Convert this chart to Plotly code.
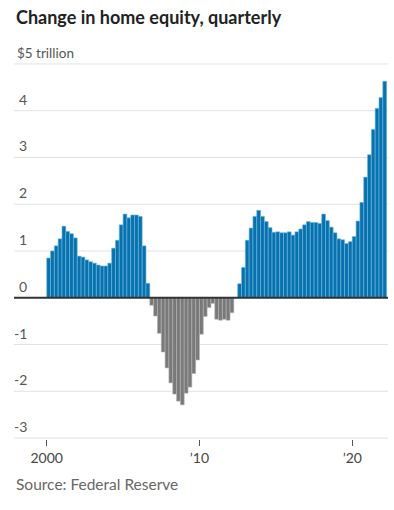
import plotly.graph_objects as go

# ---- data (trillions of dollars, quarterly change in home equity), 2000Q1 .. 2022Q1
start_year = 2000
boom_values = [0.85, 1.00, 1.11, 1.26, 1.53, 1.42, 1.37, 1.28, 0.89, 0.87, 0.81, 0.77, 0.74,
               0.70, 0.68, 0.68, 0.74, 1.06, 1.23, 1.56, 1.79, 1.71, 1.77, 1.77, 1.74, 1.11, 0.31]
bust_values = [-0.16, -0.39, -0.76, -1.16, -1.50, -1.82, -2.06, -2.21, -2.29, -2.04, -1.91,
               -1.62, -1.33, -0.78, -0.40, -0.21, -0.12, -0.46, -0.48, -0.46, -0.48, -0.32, 0.0]
recovery_values = [0.30, 0.65, 1.23, 1.49, 1.74, 1.87, 1.74, 1.63, 1.50, 1.40, 1.41, 1.39, 1.39,
                   1.41, 1.34, 1.41, 1.47, 1.56, 1.63, 1.61, 1.61, 1.59, 1.79, 1.65, 1.51, 1.39,
                   1.26, 1.24, 1.16, 1.20, 1.31, 1.64, 2.04, 2.58, 3.06, 3.60, 4.05, 4.28, 4.63]

y_ticks = [5, 4, 3, 2, 1, 0, -1, -2, -3]
y_tick_labels = ["$5 trillion", "4", "3", "2", "1", "0", "-1", "-2", "-3"]
x_ticks = [2000, 2010, 2020]
x_tick_labels = ["2000", "\u201910", "\u201920"]

values = boom_values + bust_values + recovery_values
x_pos = [start_year + i / 4 + 0.125 for i in range(len(values))]

BLUE = "#0772ad"
BLUE_EDGE = "#6fb7e3"
GRAY = "#797979"
GRAY_EDGE = "#b4b4b4"
colors = [BLUE if v >= 0 else GRAY for v in values]
edges = [BLUE_EDGE if v >= 0 else GRAY_EDGE for v in values]

FONT = "Lato"

fig = go.Figure()
fig.add_trace(go.Bar(
    x=x_pos, y=values, width=0.25,
    marker=dict(color=colors, line=dict(color=edges, width=0.6)),
    hoverinfo="skip",
))

# gridlines and y-axis labels above them
for v, lab in zip(y_ticks, y_tick_labels):
    if v != 0:
        fig.add_shape(type="line", xref="paper", x0=0, x1=1, yref="y", y0=v, y1=v,
                      line=dict(color="#e2e2e2", width=1), layer="below")
    if v == 5:
        fig.add_annotation(x=0, xref="paper", y=v, yref="y", text=lab, showarrow=False,
                           xanchor="left", yanchor="bottom", yshift=1, xshift=1,
                           font=dict(family=FONT, size=13.5, color="#555555"))
    else:
        fig.add_annotation(x=15 / 374, xref="paper", y=v, yref="y", text=lab, showarrow=False,
                           xanchor="right", yanchor="bottom", yshift=1,
                           font=dict(family=FONT, size=14, color="#555555"))

fig.add_shape(type="line", xref="paper", x0=0, x1=1, yref="y", y0=0, y1=0,
              line=dict(color="#333333", width=2), layer="above")

fig.add_annotation(x=0, xref="paper", y=1, yref="paper", yshift=46,
                   text="<b>Change in home equity, quarterly</b>", showarrow=False,
                   xanchor="left", yanchor="middle",
                   font=dict(family=FONT, size=18, color="#222222"))
fig.add_annotation(x=0, xref="paper", y=0, yref="paper", yshift=-45,
                   text="Source: Federal Reserve", showarrow=False,
                   xanchor="left", yanchor="middle",
                   font=dict(family=FONT, size=15.5, color="#666666"))

fig.update_layout(
    width=394, height=510,
    margin=dict(l=14, r=6, t=63, b=71),
    plot_bgcolor="white", paper_bgcolor="white",
    showlegend=False, bargap=0,
    xaxis=dict(range=[1997.86, 2022.34], tickvals=x_ticks, ticktext=x_tick_labels,
               ticks="outside", ticklen=6, tickcolor="#555555", tickwidth=1,
               showgrid=False, zeroline=False, showline=False,
               tickfont=dict(family=FONT, size=14, color="#444444")),
    yaxis=dict(range=[-3.02, 5.02], tickvals=y_ticks, showticklabels=False,
               showgrid=False, zeroline=False),
)

fig.write_html("out.html", config={"displayModeBar": False, "staticPlot": True})

# remove the browser's default page margin so the figure sits at the window's corner
with open("out.html", "r", encoding="utf-8") as f:
    html = f.read()
html = html.replace("<body>", '<body style="margin:0;padding:0;">', 1)
with open("out.html", "w", encoding="utf-8") as f:
    f.write(html)
